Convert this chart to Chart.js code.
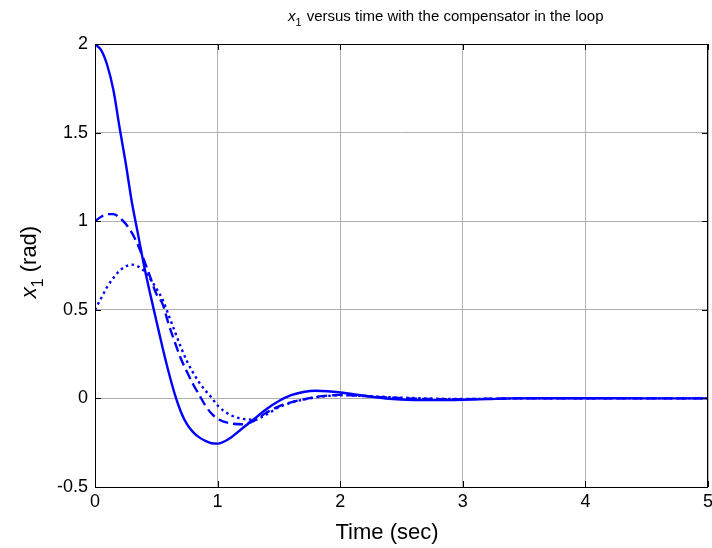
<!DOCTYPE html>
<html>
<head>
<meta charset="utf-8">
<script src="https://cdn.jsdelivr.net/npm/chart.js@4.4.0/dist/chart.umd.min.js"></script>
<style>
  html, body { margin: 0; padding: 0; background: #ffffff; }
  #wrap { position: relative; width: 712px; height: 548px; }
  canvas { display: block; }
</style>
</head>
<body>
<div id="wrap"><canvas id="c" width="712" height="548"></canvas></div>
<script>
// ---- data ----
const time = [0,0.05,0.1,0.15,0.2,0.25,0.3,0.35,0.4,0.45,0.5,0.55,0.6,0.65,0.7,0.75,0.8,0.85,0.9,0.95,1.0,1.1,1.2,1.3,1.4,1.5,1.6,1.7,1.8,1.9,2.0,2.2,2.4,2.6,2.8,3.0,3.2,3.4,3.6,4.0,4.5,5.0];
const x1From2 = [2.0,1.965,1.88,1.74,1.53,1.33,1.11,0.93,0.75,0.59,0.44,0.29,0.15,0.025,-0.075,-0.145,-0.19,-0.22,-0.24,-0.253,-0.255,-0.225,-0.17,-0.115,-0.06,-0.015,0.018,0.036,0.043,0.04,0.033,0.015,-0.002,-0.009,-0.01,-0.008,-0.004,0,0.001,0.001,0,0];
const x1From1 = [1.0,1.025,1.04,1.04,1.02,0.985,0.935,0.865,0.78,0.685,0.59,0.535,0.42,0.32,0.225,0.15,0.08,0.02,-0.04,-0.085,-0.115,-0.14,-0.146,-0.125,-0.08,-0.045,-0.022,-0.006,0.008,0.016,0.02,0.013,0.005,-0.001,-0.004,-0.004,-0.002,0,0.001,0,0,0];
const x1From05 = [0.5,0.565,0.63,0.68,0.72,0.745,0.755,0.745,0.72,0.675,0.62,0.56,0.47,0.38,0.29,0.21,0.145,0.09,0.045,0.005,-0.04,-0.092,-0.115,-0.12,-0.09,-0.05,-0.024,-0.007,0.006,0.014,0.018,0.014,0.007,0.002,-0.002,-0.003,-0.002,0,0.001,0,0,0];
const xTicks = [0,1,2,3,4,5];
const xTickLabels = ['0','1','2','3','4','5'];
const yTicks = [-0.5,0,0.5,1,1.5,2];
const yTickLabels = ['-0.5','0','0.5','1','1.5','2'];
const titleMain = ' versus time with the compensator in the loop';
const xAxisTitle = 'Time (sec)';
const yAxisTitleRest = ' (rad)';

const FONT = '"Liberation Sans", Arial, Helvetica, sans-serif';
const pts = (arr) => time.map((t, i) => ({ x: t, y: arr[i] }));

function labelFor(v, ticks, labels) {
  for (let i = 0; i < ticks.length; i++) if (Math.abs(ticks[i] - v) < 1e-9) return labels[i];
  return '';
}

const decor = {
  id: 'decor',
  afterDraw(chart) {
    const ctx = chart.ctx;
    const a = chart.chartArea;
    const xs = chart.scales.x, ys = chart.scales.y;
    ctx.save();
    // inward tick marks
    ctx.strokeStyle = '#000';
    ctx.lineWidth = 1;
    ctx.beginPath();
    xTicks.forEach(v => {
      const px = Math.round(xs.getPixelForValue(v)) + 0.5;
      ctx.moveTo(px, a.bottom); ctx.lineTo(px, a.bottom - 6);
      ctx.moveTo(px, a.top); ctx.lineTo(px, a.top + 6);
    });
    yTicks.forEach(v => {
      const py = Math.round(ys.getPixelForValue(v)) + 0.5;
      ctx.moveTo(a.left, py); ctx.lineTo(a.left + 6, py);
      ctx.moveTo(a.right, py); ctx.lineTo(a.right - 6, py);
    });
    ctx.stroke();
    // box
    ctx.strokeRect(Math.round(a.left) + 0.5, Math.round(a.top) + 0.5, Math.round(a.right - a.left) - 1, Math.round(a.bottom - a.top));

    ctx.fillStyle = '#000';
    ctx.textBaseline = 'alphabetic';
    ctx.textAlign = 'left';
    // title: italic x, subscript 1, rest
    const tf = 15;
    ctx.font = 'italic ' + tf + 'px ' + FONT;
    const wx = ctx.measureText('x').width;
    ctx.font = (tf * 0.72) + 'px ' + FONT;
    const w1 = ctx.measureText('1').width;
    let tx = 288;
    const tb = 21;
    ctx.font = 'italic ' + tf + 'px ' + FONT;
    ctx.fillText('x', tx, tb); tx += wx;
    ctx.font = (tf * 0.72) + 'px ' + FONT;
    ctx.fillText('1', tx, tb + 5); tx += w1 + 1;
    ctx.font = tf + 'px ' + FONT;
    ctx.fillText(titleMain, tx, tb);

    // x axis title
    ctx.font = '22px ' + FONT;
    ctx.textAlign = 'center';
    ctx.fillText(xAxisTitle, 387, 539);

    // y axis title rotated
    const yf = 22;
    ctx.translate(36, 262);
    ctx.rotate(-Math.PI / 2);
    ctx.textAlign = 'left';
    ctx.font = 'italic ' + yf + 'px ' + FONT;
    const yx = ctx.measureText('x').width;
    ctx.font = (yf * 0.72) + 'px ' + FONT;
    const y1 = ctx.measureText('1').width;
    ctx.font = yf + 'px ' + FONT;
    const yr = ctx.measureText(yAxisTitleRest).width;
    let ux = -(yx + y1 + yr) / 2;
    ctx.font = 'italic ' + yf + 'px ' + FONT;
    ctx.fillText('x', ux, 0); ux += yx;
    ctx.font = (yf * 0.72) + 'px ' + FONT;
    ctx.fillText('1', ux, 7); ux += y1;
    ctx.font = yf + 'px ' + FONT;
    ctx.fillText(yAxisTitleRest, ux, 0);
    ctx.restore();
  }
};

const common = { borderColor: '#0000ff', pointRadius: 0, fill: false, cubicInterpolationMode: 'monotone', borderWidth: 2.4 };

new Chart(document.getElementById('c'), {
  type: 'line',
  data: {
    datasets: [
      Object.assign({ label: 'x1(0)=2', data: pts(x1From2) }, common),
      Object.assign({ label: 'x1(0)=1', data: pts(x1From1), borderDash: [10, 5] }, common),
      Object.assign({ label: 'x1(0)=0.5', data: pts(x1From05), borderDash: [2.5, 3.5] }, common)
    ]
  },
  options: {
    responsive: false,
    devicePixelRatio: 1,
    animation: false,
    layout: { padding: { top: 44, right: 4, left: 0, bottom: 0 } },
    plugins: { legend: { display: false }, title: { display: false }, tooltip: { enabled: false } },
    scales: {
      x: {
        type: 'linear', min: 0, max: 5,
        afterBuildTicks(s) { s.ticks = xTicks.map(v => ({ value: v })); },
        afterFit(s) { s.height = 61; s.paddingLeft = 0; s.paddingRight = 0; },
        ticks: { color: '#000', font: { family: FONT, size: 18 }, padding: 4, maxRotation: 0,
                 callback: (v) => labelFor(v, xTicks, xTickLabels) },
        grid: { color: '#b0b0b0', lineWidth: 1, drawTicks: false },
        border: { display: false }
      },
      y: {
        type: 'linear', min: -0.5, max: 2,
        afterBuildTicks(s) { s.ticks = yTicks.map(v => ({ value: v })); },
        afterFit(s) { s.width = 95; s.paddingTop = 0; s.paddingBottom = 0; },
        ticks: { color: '#000', font: { family: FONT, size: 18 }, padding: 7,
                 callback: (v) => labelFor(v, yTicks, yTickLabels) },
        grid: { color: '#b0b0b0', lineWidth: 1, drawTicks: false },
        border: { display: false }
      }
    }
  },
  plugins: [decor]
});
</script>
</body>
</html>
